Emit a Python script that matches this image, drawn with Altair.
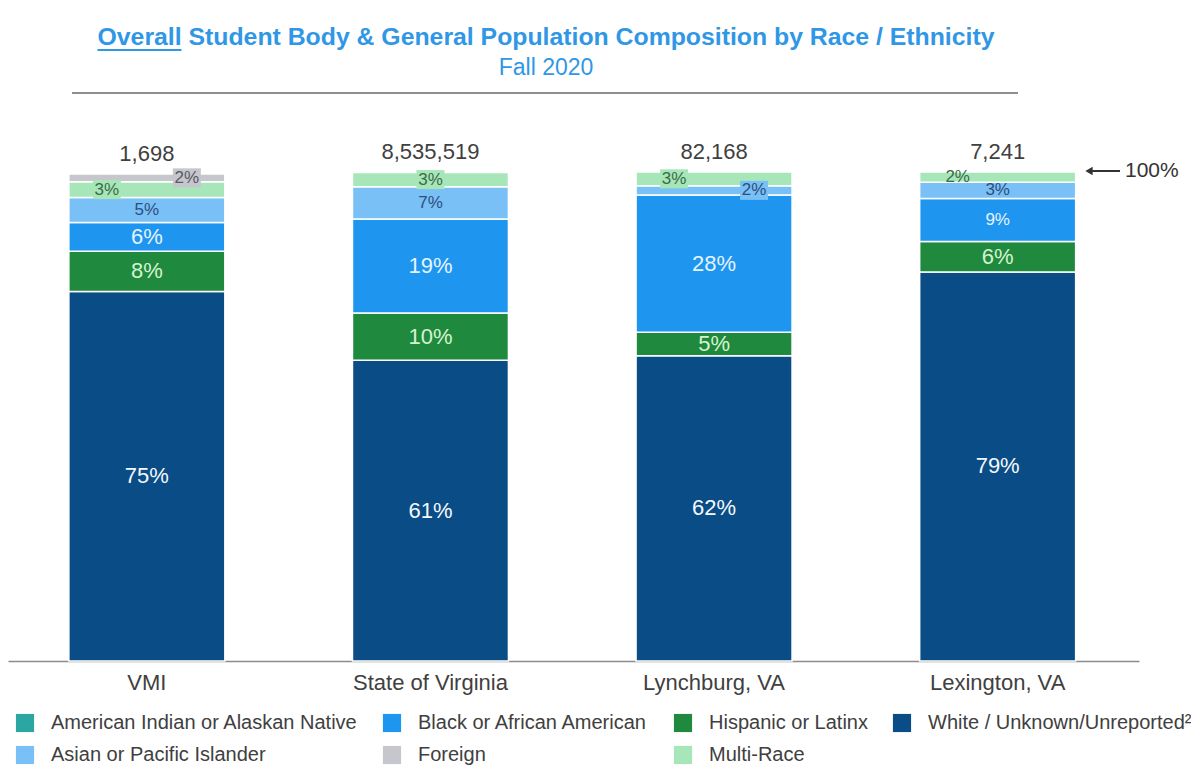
import altair as alt
import pandas as pd

# ---------------- data ----------------
title_text = ["Overall Student Body & General Population Composition by Race / Ethnicity"]
subtitle_text = ["Fall 2020"]

places = ["VMI", "State of Virginia", "Lynchburg, VA", "Lexington, VA"]
totals = [1698, 8535519, 82168, 7241]

cat_ai = "American Indian or Alaskan Native"
cat_black = "Black or African American"
cat_hisp = "Hispanic or Latinx"
cat_white = "White / Unknown/Unreported²"
cat_asian = "Asian or Pacific Islander"
cat_foreign = "Foreign"
cat_multi = "Multi-Race"

# percent of each population
white = [75.4, 61.4, 62.3, 79.4]
hispanic = [8.2, 9.6, 4.8, 6.2]
black = [5.9, 19.2, 28.0, 8.8]
asian = [5.1, 6.6, 1.9, 3.3]
multi = [3.2, 2.9, 2.8, 2.1]
foreign = [1.6, 0.0, 0.0, 0.0]
am_indian = [0.0, 0.0, 0.0, 0.0]

series = {
    cat_white: white,
    cat_hisp: hispanic,
    cat_black: black,
    cat_asian: asian,
    cat_multi: multi,
    cat_foreign: foreign,
    cat_ai: am_indian,
}
stack_order = [cat_white, cat_hisp, cat_black, cat_asian, cat_multi, cat_foreign, cat_ai]
legend_order = [cat_ai, cat_black, cat_hisp, cat_white, cat_asian, cat_foreign, cat_multi]
fill_colors = ["#2BA6A0", "#1E96F0", "#1F8A3E", "#0A4C86", "#79C0F6", "#C6C6CD", "#A6E6B9"]
text_colors = ["#FFFFFF", "#E6F3FF", "#D6F3D0", "#F4F8FC", "#2E4E7C", "#555A64", "#3B6B45"]

annotation = ["100%"]

rows = []
for i, p in enumerate(places):
    for cat, vals in series.items():
        rows.append({"place": p, "cat": cat, "value": vals[i], "order": stack_order.index(cat)})
df = pd.DataFrame(rows)
tot_df = pd.DataFrame({
    "place": places,
    "total": totals,
    "top": [sum(series[c][i] for c in series) for i in range(len(places))],
})
ann_df = pd.DataFrame({"place": [places[-1]], "y": [100], "text": annotation})
title_df = pd.DataFrame({"t": title_text})
sub_df = pd.DataFrame({"t": subtitle_text})
dummy = pd.DataFrame({"a": [0]})

FONT = "Liberation Sans"
BLUE = "#2F97E5"
GREY_TXT = "#404040"

xscale = alt.Scale(domain=places, paddingInner=0.45, paddingOuter=0.219, align=0.49)
yscale = alt.Scale(domain=[0, 100], nice=False, zero=True)
xenc = alt.X(
    "place:N", scale=xscale, title=None,
    axis=alt.Axis(labelAngle=0, labelFontSize=22, labelColor=GREY_TXT, labelFont=FONT,
                  labelPadding=11, ticks=False, domainColor="#8c8c8c", domainWidth=1.5),
)

base = (
    alt.Chart(df)
    .transform_filter("datum.value > 0")
    .transform_stack(stack="value", groupby=["place"],
                     sort=[alt.SortField("order", "ascending")], as_=["y0", "y1"])
    .transform_calculate(
        mid="(datum.y0 + datum.y1) / 2",
        label="round(datum.value) + '%'",
        pos=f"(datum.cat == '{cat_multi}' && datum.place != 'State of Virginia') ? 'L' : "
            f"((datum.cat == '{cat_foreign}' || (datum.cat == '{cat_asian}' && datum.place == 'Lynchburg, VA')) ? 'R' : 'C')",
        sz=f"((datum.cat == '{cat_white}' || datum.cat == '{cat_hisp}' || datum.cat == '{cat_black}') "
           f"&& !(datum.place == 'Lexington, VA' && datum.cat == '{cat_black}')) ? 'big' : 'small'",
        box=f"(datum.place != 'Lexington, VA' && datum.value < 4) ? 'y' : 'n'",
    )
)

bars = base.mark_bar(stroke="white", strokeWidth=1.5).encode(
    x=xenc,
    y=alt.Y("y0:Q", scale=yscale, axis=None),
    y2="y1:Q",
    color=alt.Color(
        "cat:N",
        scale=alt.Scale(domain=legend_order, range=fill_colors),
        legend=alt.Legend(
            title=None, orient="none", legendX=7, legendY=542, direction="horizontal",
            columns=4, columnPadding=24, rowPadding=12, symbolType="square", symbolSize=330,
            symbolStrokeWidth=0, labelFont=FONT, labelFontSize=20, labelColor=GREY_TXT,
            labelLimit=0, labelOffset=16,
        ),
    ),
)

# label boxes: rectangles drawn as custom symbols, shifted left / right like the labels
box_paths = {
    "C": "M-1,-0.68H1V0.68H-1Z",
    "L": "M-3.857,-0.68H-1.857V0.68H-3.857Z",
    "R": "M1.857,-0.68H3.857V0.68H1.857Z",
}
text_scale = alt.Scale(domain=legend_order, range=text_colors)
size_scale = alt.Scale(domain=["big", "small"], range=[22, 17])


def box_layer(pos):
    return base.transform_filter(f"datum.box == 'y' && datum.pos == '{pos}'").mark_point(
        shape=box_paths[pos], size=784, filled=True, opacity=1, strokeWidth=0
    ).encode(
        x=xenc,
        y=alt.Y("mid:Q", scale=yscale, axis=None),
        color=alt.Color("cat:N", scale=alt.Scale(domain=legend_order, range=fill_colors), legend=None),
    )


def text_layer(pos, dx):
    return base.transform_filter(f"datum.pos == '{pos}'").mark_text(
        font=FONT, dx=dx, baseline="middle", align="center"
    ).encode(
        x=xenc,
        y=alt.Y("mid:Q", scale=yscale, axis=None),
        text="label:N",
        color=alt.Color("cat:N", scale=text_scale, legend=None),
        size=alt.Size("sz:N", scale=size_scale, legend=None),
    )


totals_text = alt.Chart(tot_df).transform_calculate(
    tlabel="format(datum.total, ',')"
).mark_text(font=FONT, fontSize=22, color=GREY_TXT, dy=-20, baseline="middle").encode(
    x=xenc, y=alt.Y("top:Q", scale=yscale, axis=None), text="tlabel:N"
)

# "<- 100%" marker
ann_text = alt.Chart(ann_df).mark_text(
    font=FONT, fontSize=21, color="#333333", align="left", baseline="middle"
).encode(x=alt.value(1117), y=alt.Y("y:Q", scale=yscale, axis=None), text="text:N")
ann_line = alt.Chart(ann_df).mark_rule(color="#333333", strokeWidth=2).encode(
    x=alt.value(1082), x2=alt.value(1112), y=alt.Y("y:Q", scale=yscale, axis=None)
)
ann_head = alt.Chart(ann_df).mark_point(
    shape="triangle-left", filled=True, size=70, color="#333333", opacity=1
).encode(x=alt.value(1081), y=alt.Y("y:Q", scale=yscale, axis=None))

# title block
title_mark = alt.Chart(title_df).mark_text(
    font=FONT, fontSize=24.8, fontWeight="bold", color=BLUE, align="center", baseline="middle"
).encode(x=alt.value(538), y=alt.value(-133), text="t:N")
sub_mark = alt.Chart(sub_df).mark_text(
    font=FONT, fontSize=23, color=BLUE, align="center", baseline="middle"
).encode(x=alt.value(538), y=alt.value(-103), text="t:N")
underline = alt.Chart(dummy).mark_rule(color=BLUE, strokeWidth=1.8).encode(
    x=alt.value(89.5), x2=alt.value(173.5), y=alt.value(-121)
)
divider = alt.Chart(dummy).mark_rule(color="#8e8e8e", strokeWidth=2).encode(
    x=alt.value(64), x2=alt.value(1010), y=alt.value(-78)
)

chart = alt.layer(
    bars,
    box_layer("C"), box_layer("L"), box_layer("R"),
    text_layer("C", 0), text_layer("L", -40), text_layer("R", 40),
    totals_text, ann_line, ann_head, ann_text,
    title_mark, sub_mark, underline, divider,
).resolve_scale(color="independent").properties(
    width=1131,
    height=490,
    padding={"left": 0, "top": 163, "right": 52, "bottom": 110},
    autosize=alt.AutoSizeParams(type="none"),
).configure(font=FONT).configure_view(stroke=None)

chart.save("out.html", embed_options={"renderer": "svg", "actions": False})
